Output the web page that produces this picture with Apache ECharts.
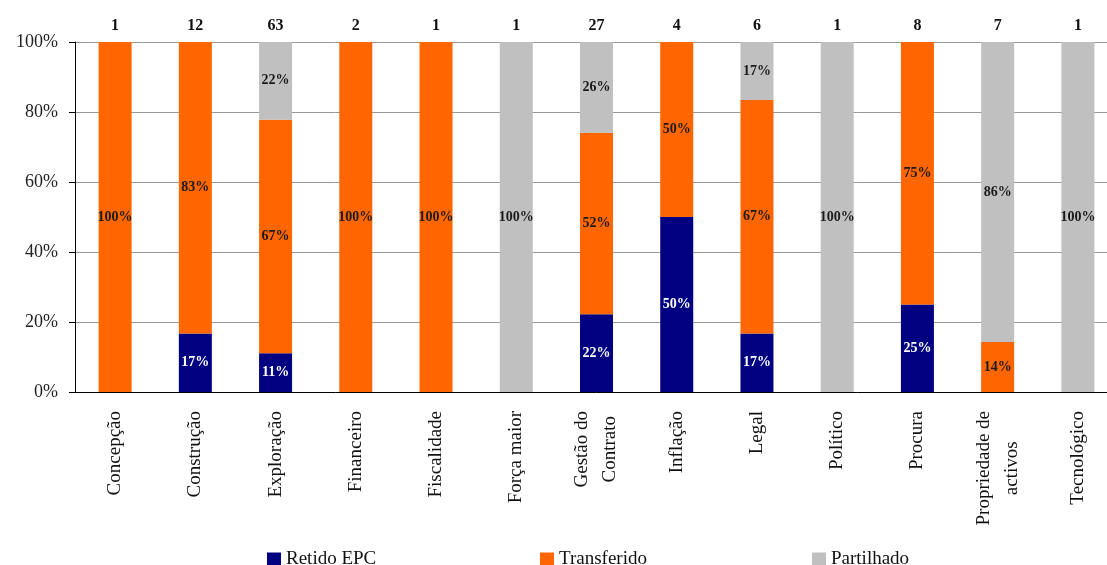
<!DOCTYPE html>
<html>
<head>
<meta charset="utf-8">
<title>Risco por categoria</title>
<script src="https://cdn.jsdelivr.net/npm/echarts@6/dist/echarts.min.js"></script>
<style>
  html, body { margin: 0; padding: 0; background: #fff; overflow: hidden; }
  /* the plot runs a little past the right edge of the window, as in the source */
  #chart { width: 1118px; height: 565px; }
</style>
</head>
<body>
<div id="chart"></div>
<script>
// categorias de risco
const categories = ['Concepção', 'Construção', 'Exploração', 'Financeiro', 'Fiscalidade', 'Força maior',
  'Gestão do\nContrato', 'Inflação', 'Legal', 'Político', 'Procura', 'Propriedade de\nactivos', 'Tecnológico']
// número de riscos por categoria (topo)
const counts = [1, 12, 63, 2, 1, 1, 27, 4, 6, 1, 8, 7, 1]
// percentagens
const retido = [null, 16.7, 11.1, null, null, null, 22.2, 50, 16.7, null, 25, null, null]
const transferido = [100, 83.3, 66.7, 100, 100, null, 51.9, 50, 66.7, null, 75, 14.3, null]
const partilhado = [null, null, 22.2, null, null, 100, 25.9, null, 16.7, 100, null, 85.7, 100]
const yTicks = [0, 20, 40, 60, 80, 100]

const serif = 'Liberation Serif, Times New Roman, serif'

function barLabel(color) {
  return {
    show: true,
    position: 'inside',
    fontFamily: serif,
    fontWeight: 'bold',
    fontSize: 14,
    color: color,
    formatter: p => (p.value ? Math.round(p.value) + '%' : '')
  }
}

function legendAt(name, left) {
  return {
    data: [name],
    left: left,
    top: 545,
    itemWidth: 14,
    itemHeight: 14,
    itemGap: 0,
    icon: 'rect',
    textStyle: { fontFamily: serif, fontSize: 19, color: '#111' }
  }
}

// two-line category names: lines centred on each other
function catLabel(v) {
  if (v.indexOf('\n') < 0) return v
  return v.split('\n').map(s => '{c|' + s + '}').join('\n')
}

const chart = echarts.init(document.getElementById('chart'))
chart.setOption({
  animation: false,
  grid: {
    left: 75,
    right: 0,
    top: 42,
    bottom: 173,
    containLabel: false
  },
  legend: [
    legendAt('Retido EPC', 262),
    legendAt('Transferido', 535),
    legendAt('Partilhado', 807)
  ],
  xAxis: [
    {
      type: 'category',
      data: categories,
      position: 'bottom',
      axisLine: { lineStyle: { color: '#000', width: 1 } },
      axisTick: { length: 8, lineStyle: { color: '#000' } },
      axisLabel: {
        rotate: 90,
        margin: 19,
        interval: 0,
        fontFamily: serif,
        fontSize: 19,
        lineHeight: 28,
        color: '#111',
        formatter: catLabel,
        rich: {
          c: { align: 'center', fontFamily: serif, fontSize: 19, lineHeight: 28, color: '#111' }
        }
      }
    },
    {
      type: 'category',
      data: counts,
      position: 'top',
      axisLine: { show: false },
      axisTick: { show: false },
      axisLabel: {
        margin: 8,
        interval: 0,
        fontFamily: serif,
        fontWeight: 'bold',
        fontSize: 16,
        color: '#111'
      }
    }
  ],
  yAxis: {
    type: 'value',
    min: yTicks[0],
    max: yTicks[yTicks.length - 1],
    interval: 20,
    axisLine: { show: true, lineStyle: { color: '#000' } },
    axisTick: { show: true, length: 6, lineStyle: { color: '#000' } },
    splitLine: { lineStyle: { color: '#999', width: 1 } },
    axisLabel: {
      margin: 17,
      fontFamily: serif,
      fontSize: 18,
      color: '#222',
      formatter: '{value}%'
    }
  },
  series: [
    {
      name: 'Retido EPC',
      type: 'bar',
      stack: 'total',
      barWidth: 33,
      data: retido,
      itemStyle: { color: '#000080' },
      label: barLabel('#fff')
    },
    {
      name: 'Transferido',
      type: 'bar',
      stack: 'total',
      barWidth: 33,
      data: transferido,
      itemStyle: { color: '#ff6600' },
      label: barLabel('#1a1a1a')
    },
    {
      name: 'Partilhado',
      type: 'bar',
      stack: 'total',
      barWidth: 33,
      data: partilhado,
      itemStyle: { color: '#c0c0c0' },
      label: barLabel('#1a1a1a')
    }
  ]
})
</script>
</body>
</html>
